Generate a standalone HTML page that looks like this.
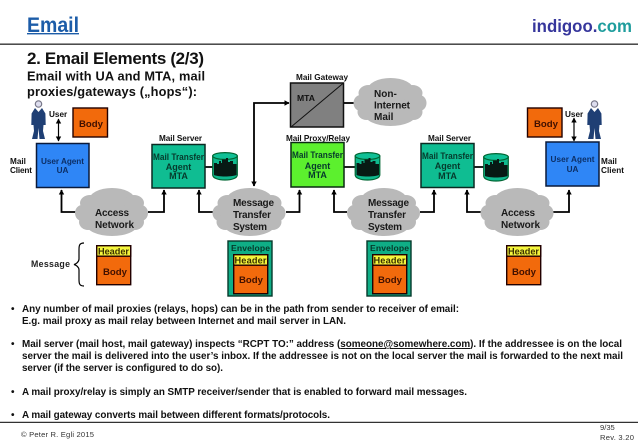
<!DOCTYPE html>
<html><head><meta charset="utf-8">
<style>
html,body{margin:0;padding:0;background:#fff}
svg{display:block;filter:blur(0.3px)}
text{font-family:"Liberation Sans",sans-serif;font-weight:bold;fill:#111}
.n{font-weight:normal;fill:#333}
.s{font-size:8.2px}
.m{font-size:9px;fill:#063a2c}
.c{font-size:10px;fill:#1a1a1a}
.t{font-size:9.9px}
</style></head><body>
<svg width="638" height="442" viewBox="0 0 638 442" xmlns="http://www.w3.org/2000/svg">
<defs>
<marker id="a" markerWidth="6" markerHeight="6" refX="4.5" refY="3" orient="auto-start-reverse" markerUnits="userSpaceOnUse"><path d="M0,0.3L5,3L0,5.7Z" fill="#000"/></marker>
<g id="cloud" fill="#b9b9b9">
<ellipse cx="37" cy="24" rx="33" ry="17"/><ellipse cx="37" cy="12" rx="23" ry="12"/><ellipse cx="37" cy="36" rx="26" ry="12"/>
<ellipse cx="15" cy="15" rx="10" ry="8"/><ellipse cx="59" cy="15" rx="10" ry="8"/>
<ellipse cx="7" cy="25" rx="7" ry="8"/><ellipse cx="66" cy="25" rx="7" ry="8"/>
<ellipse cx="13" cy="34" rx="9" ry="8"/><ellipse cx="60" cy="34" rx="9" ry="8"/>
</g>
<g id="db">
<path d="M0.7,4V23C0.7,26 6,28 13,28S25.3,26 25.3,23V4Z" fill="#0fb98e" stroke="#063" stroke-width="1.2"/>
<ellipse cx="13" cy="4" rx="12.3" ry="3.4" fill="#10c096" stroke="#063" stroke-width="1.2"/>
<path d="M2,23V11H5V12H7V9H9V11H10V7.500H14V6H16V10H18V9H21V12H24.500V23C20,25 6,25 2,23Z" fill="#071a14"/>
</g>
<g id="man">
<circle cx="7.5" cy="4" r="3.2" fill="#dde" stroke="#778" stroke-width="1.2"/>
<path d="M4,8L0.6,13.5L0.3,25L2.5,25L3,31L1,39L6.5,39L7.5,28L8.5,39L14,39L12,31L12.5,25L14.7,25L14.4,13.5L11,8L7.5,12Z" fill="#1f3f74"/>
</g>
<g id="msg">
<rect x="0.7" y="0.7" width="34" height="39" fill="#f26a0c" stroke="#200" stroke-width="1.4"/>
<rect x="0.7" y="0.7" width="34" height="10.5" fill="#f5f53c" stroke="#200" stroke-width="1.4"/>
</g>
</defs>

<!-- header -->
<text x="27" y="32" style="font-size:21px;fill:#1c5ca8" textLength="52" lengthAdjust="spacingAndGlyphs">Email</text>
<rect x="27" y="33" width="52" height="1.4" fill="#1c5ca8"/>
<text x="532" y="32" style="font-size:17.5px" textLength="100" lengthAdjust="spacingAndGlyphs"><tspan style="fill:#36369c">indigoo.</tspan><tspan style="fill:#1f9d9d">com</tspan></text>
<rect x="0" y="43.6" width="638" height="1.1" fill="#000"/>
<text x="27" y="64" style="font-size:17px" textLength="177">2. Email Elements (2/3)</text>
<text x="27" y="80.500" style="font-size:12.8px" textLength="178">Email with UA and MTA, mail</text>
<text x="27" y="96" style="font-size:12.8px" textLength="170">proxies/gateways („hops“):</text>

<!-- connectors -->
<g fill="none" stroke="#000" stroke-width="1.8">
<path d="M76,212H61.500V190" marker-end="url(#a)"/>
<path d="M148,212H164V190" marker-end="url(#a)"/>
<path d="M213,212H199V190" marker-end="url(#a)"/>
<path d="M286,212H299.500V190" marker-end="url(#a)"/>
<path d="M347,212H334V190" marker-end="url(#a)"/>
<path d="M420,212H434V190" marker-end="url(#a)"/>
<path d="M481,212H467V190" marker-end="url(#a)"/>
<path d="M553,212H569V190" marker-end="url(#a)"/>
<path d="M289,103H254V186" marker-start="url(#a)" marker-end="url(#a)"/>
<path d="M344,103H354"/>
<path d="M205,167H213M344,167H356M474,167H484"/>
<path d="M58.500,119V141" marker-start="url(#a)" marker-end="url(#a)" stroke-width="1.2"/>
<path d="M574,118V141" marker-start="url(#a)" marker-end="url(#a)" stroke-width="1.2"/>
</g>

<!-- people and body -->
<use href="#man" x="31" y="100"/>
<use href="#man" x="587" y="100"/>
<rect x="73" y="108" width="34.500" height="29" fill="#f26a0c" stroke="#200" stroke-width="1.4"/>
<rect x="527.500" y="108" width="34.500" height="29" fill="#f26a0c" stroke="#200" stroke-width="1.4"/>
<text x="79" y="127" style="font-size:9.600px;fill:#401000">Body</text>
<text x="534" y="127" style="font-size:9.600px;fill:#401000">Body</text>
<text x="49" y="117" class="s">User</text>
<text x="565" y="117" class="s">User</text>

<!-- gateway -->
<rect x="290.500" y="83" width="53" height="44" fill="#808080" stroke="#111" stroke-width="1.5"/>
<path d="M291,127L343.500,83" stroke="#111" stroke-width="1" fill="none"/>
<text x="297" y="101" style="font-size:8.6px;fill:#111">MTA</text>
<use href="#cloud" x="353.500" y="78"/>
<text x="374" y="97" class="c">Non-</text>
<text x="374" y="108.500" class="c" textLength="36">Internet</text>
<text x="374" y="120" class="c">Mail</text>
<text x="296" y="80" class="s" textLength="52">Mail Gateway</text>
<text x="286" y="141" class="s" textLength="64">Mail Proxy/Relay</text>
<text x="159" y="141" class="s" textLength="43">Mail Server</text>
<text x="428" y="141" class="s" textLength="43">Mail Server</text>

<!-- boxes -->
<rect x="36.500" y="143.500" width="52.500" height="44" fill="#2f86f6" stroke="#0a1a3a" stroke-width="1.5"/>
<rect x="546" y="142" width="53" height="44" fill="#2f86f6" stroke="#0a1a3a" stroke-width="1.5"/>
<rect x="152" y="144.500" width="53" height="43.500" fill="#0fbd92" stroke="#0a2a22" stroke-width="1.5"/>
<rect x="291" y="142.500" width="53" height="44.500" fill="#5cf02e" stroke="#0a2a12" stroke-width="1.5"/>
<rect x="421" y="143.500" width="53" height="44" fill="#0fbd92" stroke="#0a2a22" stroke-width="1.5"/>
<g text-anchor="middle">
<text x="62.500" y="164" style="font-size:8.2px;fill:#0c2f66" textLength="43">User Agent</text>
<text x="62.500" y="173" style="font-size:8.2px;fill:#0c2f66">UA</text>
<text x="572.500" y="162" style="font-size:8.2px;fill:#0c2f66" textLength="44">User Agent</text>
<text x="572.500" y="172" style="font-size:8.2px;fill:#0c2f66">UA</text>
<text x="178.500" y="160" class="m" textLength="51" lengthAdjust="spacingAndGlyphs">Mail Transfer</text>
<text x="178.500" y="170" class="m">Agent</text>
<text x="178.500" y="179" class="m">MTA</text>
<text x="317.500" y="158" class="m" textLength="51" lengthAdjust="spacingAndGlyphs">Mail Transfer</text>
<text x="317.500" y="169" class="m">Agent</text>
<text x="317.500" y="178" class="m">MTA</text>
<text x="447.500" y="159" class="m" textLength="51" lengthAdjust="spacingAndGlyphs">Mail Transfer</text>
<text x="447.500" y="169" class="m">Agent</text>
<text x="447.500" y="179" class="m">MTA</text>
</g>
<use href="#db" x="212" y="152"/>
<use href="#db" x="354.500" y="152"/>
<use href="#db" x="483" y="153"/>
<text x="10" y="164" class="s">Mail</text>
<text x="10" y="173" class="s" textLength="22">Client</text>
<text x="601" y="164" class="s">Mail</text>
<text x="601" y="173" class="s" textLength="23">Client</text>

<!-- clouds -->
<use href="#cloud" x="75" y="188"/>
<use href="#cloud" x="212.500" y="188"/>
<use href="#cloud" x="347" y="188"/>
<use href="#cloud" x="480.500" y="188"/>
<text x="95" y="216" class="c" textLength="34">Access</text>
<text x="95" y="228" class="c" textLength="39">Network</text>
<text x="233" y="206" class="c" textLength="41">Message</text>
<text x="233" y="218" class="c" textLength="38">Transfer</text>
<text x="233" y="230" class="c" textLength="34">System</text>
<text x="368" y="206" class="c" textLength="41">Message</text>
<text x="368" y="218" class="c" textLength="38">Transfer</text>
<text x="368" y="230" class="c" textLength="34">System</text>
<text x="501" y="216" class="c" textLength="34">Access</text>
<text x="501" y="228" class="c" textLength="39">Network</text>

<!-- message row -->
<text x="31" y="267" style="font-size:8.8px;fill:#222" textLength="39">Message</text>
<path d="M84,243C79,243 79,246 79,250V259C79,262 76,264 74,264.500C76,265 79,267 79,270V279C79,283 79,286 84,286" fill="none" stroke="#000" stroke-width="1.2"/>
<use href="#msg" x="96" y="245"/>
<use href="#msg" x="506" y="245"/>
<text x="113.500" y="254.500" text-anchor="middle" style="font-size:9.2px;fill:#3a3000" textLength="31">Header</text>
<text x="523.500" y="254.500" text-anchor="middle" style="font-size:9.2px;fill:#3a3000" textLength="31">Header</text>
<text x="115" y="275" text-anchor="middle" style="font-size:9.600px;fill:#401000">Body</text>
<text x="524" y="275" text-anchor="middle" style="font-size:9.600px;fill:#401000">Body</text>

<rect x="228" y="241" width="44" height="55" fill="#0fae86" stroke="#063a2c" stroke-width="1.4"/>
<rect x="367" y="241" width="44" height="55" fill="#0fae86" stroke="#063a2c" stroke-width="1.4"/>
<use href="#msg" x="233" y="254"/>
<use href="#msg" x="372" y="254"/>
<text x="250.500" y="251" text-anchor="middle" style="font-size:8.6px;fill:#06382a" textLength="39">Envelope</text>
<text x="389.500" y="251" text-anchor="middle" style="font-size:8.6px;fill:#06382a" textLength="39">Envelope</text>
<text x="250.500" y="263.500" text-anchor="middle" style="font-size:9.2px;fill:#3a3000" textLength="32">Header</text>
<text x="389.500" y="263.500" text-anchor="middle" style="font-size:9.2px;fill:#3a3000" textLength="32">Header</text>
<text x="251" y="283" text-anchor="middle" style="font-size:9.600px;fill:#401000">Body</text>
<text x="390" y="283" text-anchor="middle" style="font-size:9.600px;fill:#401000">Body</text>

<!-- bullets -->
<text x="11" y="312" style="font-size:10px">•</text>
<text x="22" y="312" class="t" textLength="437">Any number of mail proxies (relays, hops) can be in the path from sender to receiver of email:</text>
<text x="22" y="324" class="t" textLength="324">E.g. mail proxy as mail relay between Internet and mail server in LAN.</text>
<text x="11" y="347" style="font-size:10px">•</text>
<text x="22" y="347" class="t" textLength="600">Mail server (mail host, mail gateway) inspects “RCPT TO:” address (<tspan text-decoration="underline">someone@somewhere.com</tspan>). If the addressee is on the local</text>
<text x="22" y="359" class="t" textLength="601">server the mail is delivered into the user’s inbox. If the addressee is not on the local server the mail is forwarded to the next mail</text>
<text x="22" y="371" class="t" textLength="201">server (if the server is configured to do so).</text>
<text x="11" y="395" style="font-size:10px">•</text>
<text x="22" y="395" class="t" textLength="445">A mail proxy/relay is simply an SMTP receiver/sender that is enabled to forward mail messages.</text>
<text x="11" y="418" style="font-size:10px">•</text>
<text x="22" y="418" class="t" textLength="308">A mail gateway converts mail between different formats/protocols.</text>
<rect x="0" y="421.800" width="638" height="1" fill="#000"/>
<text x="21" y="437" class="n" style="font-size:7.6px" textLength="73">© Peter R. Egli 2015</text>
<text x="600" y="430" class="n" style="font-size:7.6px">9/35</text>
<text x="600" y="440" class="n" style="font-size:7.6px" textLength="34">Rev. 3.20</text>
</svg>
</body></html>
